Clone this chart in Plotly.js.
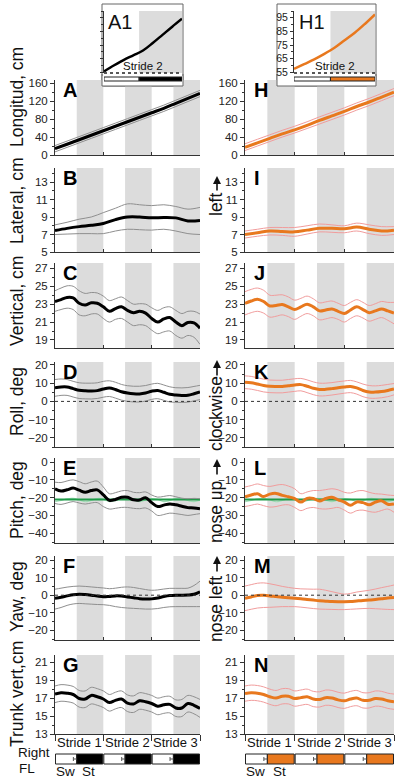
<!DOCTYPE html>
<html><head><meta charset="utf-8">
<script src="https://cdn.plot.ly/plotly-3.0.1.min.js"></script>
<style>html,body{margin:0;padding:0;background:#fff}#chart{width:400px;height:780px}</style>
</head><body><div id="chart"></div>
<script>
// ---------- DATA ----------
const strideX = [0,0.125,0.25,0.375,0.5,0.625,0.75,0.875,1,1.125,1.25,1.375,1.5,1.625,1.75,1.875,2,2.125,2.25,2.375,2.5,2.625,2.75,2.875,3];
const coarseX = [0,0.25,0.5,0.75,1,1.25,1.5,1.75,2,2.25,2.5,2.75,3];
const insetX = [0,0.125,0.25,0.375,0.5,0.625,0.75,0.875,1];
const strideLabels = ["Stride 1","Stride 2","Stride 3"];
const strideStarts = [0,1,2];
const stanceOnset = 0.45;

// Left column (A-G)
const longA_mean = [14,24,34,44,54,64,74,84,94,104,115,126,137];
const longA_up   = [21,31,41,51,61,71,81,91,101,111,122,133,144];
const longA_lo   = [7,17,27,37,47,57,67,77,87,97,108,119,130];

const latB_mean = [7.45,7.7,7.9,8.05,8.25,8.7,9.0,9.0,8.9,8.95,8.9,8.55,8.6];
const latB_up   = [8.1,8.4,8.75,9.0,9.5,10.0,10.5,10.4,10.3,10.4,10.2,9.9,10.1];
const latB_lo   = [7.0,7.05,7.1,7.1,7.1,7.4,7.6,7.55,7.5,7.6,7.4,7.1,7.0];

const vertC_mean = [23.3,23.5,23.75,23.7,23.1,22.9,23.15,23.1,22.7,22.2,22.5,22.7,22.3,22.05,22.2,22.0,21.4,21.0,21.35,21.5,21.0,20.6,20.95,20.9,20.3];
const vertC_up   = [24.5,24.8,25.05,25.0,24.5,24.2,24.3,24.25,23.9,23.4,23.6,23.8,23.4,23.0,23.05,23.0,22.6,22.3,22.6,22.7,22.3,21.95,22.2,22.2,21.9];
const vertC_lo   = [22.2,22.4,22.55,22.4,21.8,21.7,21.9,21.9,21.4,21.0,21.3,21.4,21.0,20.6,20.7,20.6,20.1,19.7,19.9,20.0,19.5,19.2,19.5,19.3,18.5];

const rollD_mean = [7.4,7.9,7.9,7.0,6.1,5.8,5.7,5.9,6.8,7.3,6.5,5.3,4.6,4.2,4.1,4.6,5.6,6.0,5.0,3.9,3.5,3.3,3.4,4.2,5.2];
const rollD_up   = [12.0,12.3,12.0,11.0,10.2,10.0,10.0,10.2,11.0,11.3,10.5,9.3,8.6,8.3,8.3,8.7,9.5,9.9,9.0,8.0,7.5,7.4,7.6,8.2,8.8];
const rollD_lo   = [2.8,3.3,3.3,2.4,1.6,1.4,1.3,1.6,2.3,2.7,1.8,0.7,0.0,-0.3,-0.3,0.2,1.1,1.5,0.6,-0.3,-0.5,-0.6,-0.4,0.3,1.0];

const pitchE_mean = [-15.0,-16.3,-15.6,-14.6,-15.8,-17.0,-16.0,-15.6,-18.5,-21.5,-21.0,-19.8,-19.8,-21.2,-21.3,-20.0,-22.8,-25.0,-24.2,-23.5,-24.0,-24.8,-25.6,-25.8,-26.3];
const pitchE_up   = [-11.3,-11.5,-10.6,-10.0,-11.0,-12.2,-11.2,-10.7,-14.0,-17.8,-17.2,-16.2,-16.0,-17.0,-17.2,-16.8,-18.5,-19.7,-19.3,-18.8,-19.5,-20.3,-20.6,-20.4,-20.6];
const pitchE_lo   = [-23.3,-23.8,-23.0,-22.2,-23.0,-23.6,-23.0,-22.8,-25.0,-26.4,-26.0,-25.5,-25.5,-26.0,-26.2,-25.8,-27.5,-30.0,-29.5,-28.7,-29.0,-29.5,-30.0,-29.5,-29.0];

const yawF_mean = [-1.7,-1.2,-0.4,0.3,0.6,0.4,0.0,-0.5,-0.9,-0.7,-0.4,-0.5,-1.0,-1.5,-2.0,-2.2,-2.1,-1.6,-0.8,-0.2,0.0,0.0,0.1,0.5,1.9];
const yawF_up   = [3.4,4.0,4.6,5.0,5.2,5.0,4.7,4.4,4.1,3.7,4.0,4.5,4.7,4.4,3.8,3.2,2.8,3.0,3.5,3.9,3.9,3.9,4.0,5.5,8.0];
const yawF_lo   = [-7.9,-7.0,-5.8,-5.0,-4.7,-4.9,-5.1,-5.3,-5.4,-5.8,-6.5,-7.0,-7.3,-7.5,-7.7,-7.9,-7.9,-7.6,-7.0,-6.6,-6.5,-6.5,-6.5,-6.5,-6.5];

const trunkG_mean = [17.45,17.6,17.55,17.4,16.95,16.9,17.3,17.15,16.9,16.5,16.75,16.9,16.45,16.35,16.7,16.6,16.4,16.1,16.25,16.3,15.9,15.9,16.4,16.2,15.85];
const trunkG_up   = [18.35,18.5,18.45,18.3,17.85,17.8,18.2,18.05,17.8,17.4,17.65,17.8,17.35,17.25,17.6,17.5,17.3,17.0,17.15,17.2,16.8,16.85,17.3,17.15,16.85];
const trunkG_lo   = [16.5,16.65,16.6,16.45,16.0,15.95,16.35,16.2,15.95,15.55,15.8,15.95,15.5,15.4,15.75,15.65,15.45,15.15,15.3,15.35,14.95,14.95,15.45,15.25,14.85];

// Right column (H-N)
const longH_mean = [17,27,37,47,56,66,77,87,97,108,118,129,140];
const longH_up   = [25,35,45,55,64,74,85,95,105,116,126,137,148];
const longH_lo   = [10,20,30,40,49,59,69,79,89,100,110,121,132];

const latI_mean = [7.0,7.2,7.4,7.35,7.3,7.5,7.7,7.7,7.65,7.85,7.6,7.4,7.5];
const latI_up   = [7.4,7.6,7.8,7.8,7.8,8.0,8.2,8.1,8.0,8.3,8.1,7.9,7.9];
const latI_lo   = [6.6,6.8,6.95,6.9,6.8,7.05,7.3,7.25,7.2,7.4,7.1,6.9,7.0];

const vertJ_mean = [23.1,23.35,23.55,23.3,22.8,22.85,22.95,22.7,22.4,22.7,23.0,22.7,22.25,22.35,22.45,22.2,21.95,22.35,22.7,22.4,22.05,22.25,22.45,22.25,22.0];
const vertJ_up   = [24.4,24.65,24.8,24.55,24.0,24.0,24.05,23.8,23.45,23.65,23.9,23.6,23.15,23.25,23.35,23.1,22.85,23.2,23.5,23.2,22.85,23.05,23.3,23.2,23.2];
const vertJ_lo   = [21.8,22.05,22.2,22.0,21.55,21.65,21.8,21.6,21.3,21.65,21.95,21.7,21.25,21.35,21.5,21.3,21.0,21.4,21.7,21.45,21.1,21.3,21.5,21.2,20.8];

const rollK_mean = [10.5,10.2,9.5,8.7,8.3,8.2,8.2,8.6,9.0,9.2,8.3,7.2,6.5,6.6,7.0,7.5,7.9,8.2,7.4,6.0,5.2,5.1,5.4,6.0,6.8];
const rollK_up   = [14.0,13.7,13.0,12.2,11.7,11.6,11.6,12.0,12.4,12.6,11.8,10.7,10.0,10.0,10.3,10.8,11.2,11.5,10.7,9.5,8.7,8.5,8.8,9.3,9.8];
const rollK_lo   = [7.0,6.7,6.0,5.2,4.8,4.7,4.7,5.1,5.5,5.8,4.8,3.7,3.0,3.1,3.5,4.0,4.5,4.8,4.0,2.6,1.8,1.7,2.0,2.6,3.6];

const pitchL_mean = [-19.6,-18.5,-17.8,-19.4,-18.0,-17.6,-18.7,-19.5,-20.5,-22.5,-20.4,-20.5,-21.9,-20.5,-19.8,-21.2,-22.5,-24.3,-22.4,-22.8,-24.0,-22.5,-21.8,-23.7,-23.5];
const pitchL_up   = [-14.0,-13.2,-12.3,-13.2,-13.7,-13.0,-12.6,-13.5,-15.0,-17.8,-16.8,-16.0,-16.0,-15.5,-15.0,-15.6,-17.0,-17.4,-16.3,-16.0,-17.0,-17.8,-18.0,-18.5,-18.8];
const pitchL_lo   = [-25.0,-24.3,-23.6,-24.5,-25.3,-25.0,-24.2,-24.0,-25.5,-27.3,-26.0,-25.5,-26.2,-26.4,-26.0,-25.5,-27.0,-28.7,-27.3,-27.0,-27.8,-28.2,-27.2,-26.4,-28.2];

const yawM_mean = [-1.7,-1.0,-0.2,-0.1,-0.4,-0.8,-1.2,-1.5,-1.7,-2.0,-2.4,-2.8,-3.2,-3.4,-3.6,-3.7,-3.7,-3.6,-3.3,-3.0,-2.8,-2.4,-2.0,-1.6,-1.3];
const yawM_up   = [5.2,6.0,6.8,7.0,6.5,5.8,5.0,4.4,3.9,3.6,3.5,3.4,3.4,2.8,2.0,1.2,0.6,1.0,1.8,2.3,2.8,3.5,4.3,5.0,5.8];
const yawM_lo   = [-8.8,-8.0,-7.3,-7.0,-6.9,-6.7,-6.5,-6.5,-6.5,-6.8,-7.2,-7.6,-7.9,-8.0,-8.1,-8.2,-8.2,-8.0,-7.8,-7.6,-7.5,-7.7,-7.9,-8.1,-8.2];

const trunkN_mean = [17.5,17.6,17.55,17.4,17.15,17.0,17.2,17.2,16.95,17.05,17.15,16.9,16.85,17.05,17.0,16.8,16.7,16.9,17.0,16.75,16.75,16.95,16.9,16.7,16.6];
const trunkN_up   = [18.35,18.45,18.4,18.25,18.0,17.85,18.05,18.05,17.8,17.9,18.0,17.75,17.7,17.9,17.85,17.65,17.55,17.75,17.85,17.6,17.6,17.8,17.75,17.55,17.45];
const trunkN_lo   = [16.65,16.75,16.7,16.55,16.3,16.15,16.35,16.35,16.1,16.2,16.3,16.05,16.0,16.2,16.15,15.95,15.85,16.05,16.15,15.9,15.9,16.1,16.05,15.85,15.75];

// pitch reference (green)
const pitchRef = -21;
const pitchRefWave = [-22.3,-21.6,-20.6,-20.4,-21.2,-22.3,-21.5,-20.5,-20.8,-22.2,-21.7,-20.6,-20.5,-21.4,-22.2,-21.3,-20.5,-21.0,-22.2,-21.6,-20.5,-20.6,-21.6,-22.2,-21.4];

// Insets (stride 2 longitudinal)
const insetA1 = [55.7,60,64,67.5,71,76.5,82.5,88.5,94.3];
const insetH1 = [57.5,61,64.5,68.5,73,78.5,84,90.5,97.5];

const rowTitles = ["Longitud, cm","Lateral, cm","Vertical, cm","Roll, deg","Pitch, deg","Yaw, deg","Trunk vert,cm"];
const rightTitles = ["","left","","clockwise","nose up","nose left",""];
const lettersL = ["A","B","C","D","E","F","G"];
const lettersR = ["H","I","J","K","L","M","N"];

const leftSeries = [
  [coarseX,longA_mean,longA_up,longA_lo],
  [coarseX,latB_mean,latB_up,latB_lo],
  [strideX,vertC_mean,vertC_up,vertC_lo],
  [strideX,rollD_mean,rollD_up,rollD_lo],
  [strideX,pitchE_mean,pitchE_up,pitchE_lo],
  [strideX,yawF_mean,yawF_up,yawF_lo],
  [strideX,trunkG_mean,trunkG_up,trunkG_lo]
];
const rightSeries = [
  [coarseX,longH_mean,longH_up,longH_lo],
  [coarseX,latI_mean,latI_up,latI_lo],
  [strideX,vertJ_mean,vertJ_up,vertJ_lo],
  [strideX,rollK_mean,rollK_up,rollK_lo],
  [strideX,pitchL_mean,pitchL_up,pitchL_lo],
  [strideX,yawM_mean,yawM_up,yawM_lo],
  [strideX,trunkN_mean,trunkN_up,trunkN_lo]
];

// ---------- GEOMETRY / STYLE ----------
const H = 780, W = 400;
const py = p => 1 - p / H;
const px = p => p / W;
const rowsGeo = [
  {top:80,  bot:155, range:[0,167],       tick0:0,   dtick:40, minor:20, zero:false},
  {top:168, bot:252, range:[5,14.6],      tick0:5,   dtick:2,  minor:1,  zero:false},
  {top:263, bot:348, range:[18.1,27.6],   tick0:19,  dtick:2,  minor:1,  zero:false},
  {top:362, bot:447, range:[-25,21.6],    tick0:-20, dtick:10, minor:5,  zero:true},
  {top:458, bot:543, range:[-45.5,2.3],   tick0:-40, dtick:10, minor:5,  zero:false},
  {top:556, bot:640, range:[-25.5,22.3],  tick0:-20, dtick:10, minor:5,  zero:true},
  {top:655, bot:734, range:[13,21.8],     tick0:13,  dtick:2,  minor:1,  zero:false}
];
const colDom = [[55,200],[245,394]];
const colStyle = [
  {mean:'#000000', sd:'#8f8f8f'},
  {mean:'#e8781e', sd:'#f19c9c'}
];
const bandColor = '#dcdcdc';
const FONT = '"Liberation Sans", Arial, sans-serif';

const layout = {
  width: W, height: H,
  margin: {l:0, r:0, t:0, b:0},
  paper_bgcolor: '#ffffff', plot_bgcolor: 'rgba(0,0,0,0)',
  showlegend: false,
  font: {family: FONT, size: 11, color: '#222'},
  shapes: [], annotations: []
};
const traces = [];
const axKey = (a,k) => k === 1 ? a + 'axis' : a + 'axis' + k;
const axRef = (a,k) => k === 1 ? a : a + k;

function addPanel(k, col, row, series) {
  const g = rowsGeo[row];
  const xr = axRef('x',k), yr = axRef('y',k);
  const last = row === 6;
  layout[axKey('x',k)] = {
    domain: [px(colDom[col][0]), px(colDom[col][1])],
    anchor: yr, range: [0,3], showline: true, linecolor: '#333', linewidth: 1,
    tickvals: [0,1,2,3], ticks: last ? 'outside' : 'inside', ticklen: last ? 6 : 3,
    tickcolor: '#333', showticklabels: false, showgrid: false, zeroline: false, fixedrange: true
  };
  layout[axKey('y',k)] = {
    domain: [py(g.bot), py(g.top)], anchor: xr, range: g.range,
    tick0: g.tick0, dtick: g.dtick, ticks: 'outside', ticklen: 4, tickcolor: '#333',
    minor: {ticks: 'outside', ticklen: 2, tick0: g.tick0, dtick: g.minor, tickcolor: '#333', showgrid: false},
    showline: true, linecolor: '#333', linewidth: 1, showgrid: false, zeroline: false,
    tickfont: {size: 11.5, color: '#222'}, fixedrange: true
  };
  strideStarts.forEach(s => {
    layout.shapes.push({type:'rect', xref: xr, yref: yr + ' domain', x0: s + stanceOnset, x1: s + 1, y0: 0, y1: 1,
      fillcolor: bandColor, line: {width: 0}, layer: 'below'});
  });
  if (g.zero) {
    layout.shapes.push({type:'line', xref: xr + ' domain', yref: yr, x0: 0, x1: 1, y0: 0, y1: 0,
      line: {color: '#333', width: 1, dash: 'dot'}, layer: 'above'});
  }
  const [xs, mean, up, lo] = series;
  const st = colStyle[col];
  if (row === 4) {
    traces.push({x: strideX, y: pitchRefWave, xaxis: xr, yaxis: yr, mode: 'lines',
      line: {color: '#9fdcb4', width: 1.2, shape: 'spline'}, hoverinfo: 'skip'});
    traces.push({x: [0,3], y: [pitchRef, pitchRef], xaxis: xr, yaxis: yr, mode: 'lines',
      line: {color: '#1f9a48', width: 2}, hoverinfo: 'skip'});
  }
  traces.push({x: xs, y: up, xaxis: xr, yaxis: yr, mode: 'lines', line: {color: st.sd, width: 1, shape: 'spline'}, hoverinfo: 'skip'});
  traces.push({x: xs, y: lo, xaxis: xr, yaxis: yr, mode: 'lines', line: {color: st.sd, width: 1, shape: 'spline'}, hoverinfo: 'skip'});
  traces.push({x: xs, y: mean, xaxis: xr, yaxis: yr, mode: 'lines', line: {color: st.mean, width: 3, shape: 'spline'}, hoverinfo: 'skip'});

  const letter = col === 0 ? lettersL[row] : lettersR[row];
  layout.annotations.push({text: letter, xref: 'paper', yref: 'paper', x: px(col === 0 ? 61 : 252), y: py(g.top - 3),
    xanchor: 'left', yanchor: 'top', showarrow: false, font: {family: FONT, size: 20, color: '#000', weight: 'bold'}});
}

for (let r = 0; r < 7; r++) {
  addPanel(r + 1, 0, r, leftSeries[r]);
  addPanel(r + 8, 1, r, rightSeries[r]);
}

// Left y titles
const titleCenters = [97, 201, 301, 402, 500, 597, 694];
rowTitles.forEach((t, i) => {
  layout.annotations.push({text: t, xref: 'paper', yref: 'paper', x: px(17), y: py(titleCenters[i]),
    textangle: -90, showarrow: false, xanchor: 'center', yanchor: 'middle', font: {family: FONT, size: 17.5, color: '#111'}});
});
// Right y titles with upward arrows
const rightText = [0, 205, 0, 414, 512, 609, 0];
const rightArrow = [null, [176,192], null, [360,377], [459,476], [556,573], null];
rightTitles.forEach((t, i) => {
  if (!t) return;
  layout.annotations.push({text: t, xref: 'paper', yref: 'paper', x: px(216), y: py(rightText[i]),
    textangle: -90, showarrow: false, xanchor: 'center', yanchor: 'middle', font: {family: FONT, size: 17.5, color: '#111'}});
  const [head, tail] = rightArrow[i];
  layout.annotations.push({text: '', xref: 'paper', yref: 'paper', x: px(217), y: py(head),
    ax: px(217), ay: py(tail), axref: 'paper', ayref: 'paper', showarrow: true,
    arrowhead: 2, arrowsize: 1, arrowwidth: 1.6, arrowcolor: '#111'});
});

// Stride labels + Right FL bars
[0,1].forEach(col => {
  const xr = axRef('x', col === 0 ? 7 : 14);
  const st = colStyle[col];
  strideStarts.forEach((s, i) => {
    layout.annotations.push({text: strideLabels[i], xref: xr, yref: 'paper', x: s + 0.5, y: py(742),
      showarrow: false, xanchor: 'center', yanchor: 'middle', font: {family: FONT, size: 13, color: '#111'}});
    layout.shapes.push({type: 'rect', xref: xr, yref: 'paper', x0: s + 0.01, x1: s + stanceOnset, y0: py(764), y1: py(754),
      fillcolor: '#ffffff', line: {color: '#222', width: 1}});
    layout.shapes.push({type: 'rect', xref: xr, yref: 'paper', x0: s + stanceOnset, x1: s + 0.99, y0: py(764), y1: py(754),
      fillcolor: st.mean, line: {color: '#222', width: 1}});
    layout.shapes.push({type: 'line', xref: xr, yref: 'paper', x0: s + stanceOnset - 0.07, x1: s + stanceOnset, y0: py(759), y1: py(759),
      line: {color: '#555', width: 1}});
    layout.shapes.push({type: 'line', xref: xr, yref: 'paper', x0: s + stanceOnset - 0.07, x1: s + stanceOnset - 0.07, y0: py(757), y1: py(761),
      line: {color: '#555', width: 1}});
  });
  layout.annotations.push({text: 'Sw', xref: xr, yref: 'paper', x: 0.22, y: py(771), showarrow: false,
    xanchor: 'center', yanchor: 'middle', font: {family: FONT, size: 13.5, color: '#111'}});
  layout.annotations.push({text: 'St', xref: xr, yref: 'paper', x: 0.7, y: py(771), showarrow: false,
    xanchor: 'center', yanchor: 'middle', font: {family: FONT, size: 13.5, color: '#111'}});
});
layout.annotations.push({text: 'Right', xref: 'paper', yref: 'paper', x: px(34), y: py(752), showarrow: false,
  xanchor: 'center', yanchor: 'middle', font: {family: FONT, size: 13.5, color: '#111'}});
layout.annotations.push({text: 'FL', xref: 'paper', yref: 'paper', x: px(27), y: py(768), showarrow: false,
  xanchor: 'center', yanchor: 'middle', font: {family: FONT, size: 13.5, color: '#111'}});

// ---------- INSETS ----------
const insets = [
  {k: 15, box: [102, 4, 183, 86], plot: [104, 182], data: insetA1, label: 'A1', col: 0, labels: false, lx: 106},
  {k: 16, box: [277, 4, 376, 86], plot: [294, 375], data: insetH1, label: 'H1', col: 1, labels: true, lx: 297}
];
insets.forEach(ins => {
  const xr = axRef('x', ins.k), yr = axRef('y', ins.k);
  const [bx0, by0, bx1, by1] = ins.box;
  layout.shapes.unshift({type: 'rect', xref: 'paper', yref: 'paper', x0: px(bx0), x1: px(bx1),
    y0: py(by1), y1: py(by0), fillcolor: '#ffffff', line: {color: '#666', width: 1}, layer: 'below'});
  // cover the part of the box that overlaps panel A/H bands (drawn above)
  layout.shapes.push({type: 'rect', xref: 'paper', yref: 'paper', x0: px(bx0), x1: px(bx1), y0: py(by1), y1: py(76),
    fillcolor: '#ffffff', line: {width: 0}, layer: 'above'});
  layout.shapes.push({type: 'path', xref: 'paper', yref: 'paper',
    path: `M ${px(bx0)},${py(74)} L ${px(bx0)},${py(by1)} L ${px(bx1)},${py(by1)} L ${px(bx1)},${py(74)}`,
    line: {color: '#666', width: 1}, layer: 'above'});
  layout[axKey('x', ins.k)] = {domain: [px(ins.plot[0]), px(ins.plot[1])], anchor: yr, range: [0,1],
    showline: false, showticklabels: false, ticks: '', showgrid: false, zeroline: false, fixedrange: true};
  layout[axKey('y', ins.k)] = {domain: [py(73), py(11)], anchor: xr, range: [54.5, 100], tick0: 55, dtick: 10,
    ticks: 'outside', ticklen: 3, tickcolor: '#333', minor: {ticks: 'outside', ticklen: 2, tick0: 55, dtick: 5, tickcolor: '#333'},
    showline: true, linecolor: '#333', linewidth: 1, showgrid: false, zeroline: false,
    showticklabels: ins.labels, tickfont: {size: 10.5, color: '#222'}, fixedrange: true};
  layout.shapes.push({type: 'rect', xref: xr, yref: yr + ' domain', x0: stanceOnset, x1: 1, y0: 0, y1: 1,
    fillcolor: bandColor, line: {width: 0}, layer: 'below'});
  layout.shapes.push({type: 'line', xref: xr + ' domain', yref: yr + ' domain', x0: 0, x1: 1, y0: 0, y1: 0,
    line: {color: '#222', width: 1.5, dash: 'dot'}});
  layout.shapes.push({type: 'rect', xref: xr, yref: 'paper', x0: 0, x1: stanceOnset, y0: py(81), y1: py(77),
    fillcolor: '#ffffff', line: {color: '#222', width: 1}});
  layout.shapes.push({type: 'rect', xref: xr, yref: 'paper', x0: stanceOnset, x1: 1, y0: py(81), y1: py(77),
    fillcolor: colStyle[ins.col].mean, line: {color: '#222', width: 1}});
  traces.push({x: insetX, y: ins.data, xaxis: xr, yaxis: yr, mode: 'lines',
    line: {color: colStyle[ins.col].mean, width: 2.5, shape: 'spline'}, hoverinfo: 'skip'});
  layout.annotations.push({text: ins.label, xref: 'paper', yref: 'paper', x: px(ins.lx), y: py(9), xanchor: 'left', yanchor: 'top',
    showarrow: false, font: {family: FONT, size: 20, color: '#111'}});
  layout.annotations.push({text: 'Stride 2', xref: xr, yref: 'paper', x: 0.5, y: py(66), xanchor: 'center', yanchor: 'middle',
    showarrow: false, font: {family: FONT, size: 11.5, color: '#111'}});
});

Plotly.newPlot('chart', traces, layout, {staticPlot: true, displayModeBar: false});
</script>
</body></html>
